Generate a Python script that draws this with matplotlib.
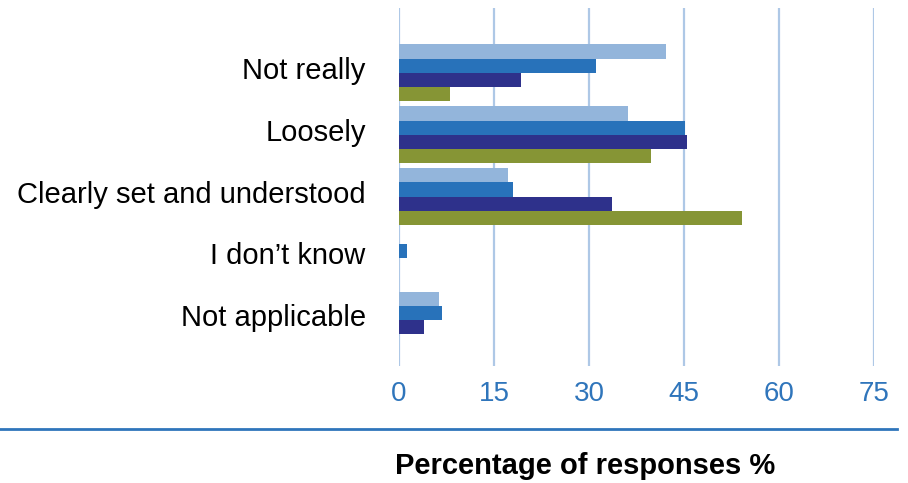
import matplotlib
matplotlib.use("Agg")
import matplotlib.pyplot as plt
from matplotlib.lines import Line2D
from matplotlib.transforms import ScaledTranslation
import numpy as np

plt.rcParams['font.family'] = ['Liberation Sans', 'DejaVu Sans']

categories = ["Not really", "Loosely", "Clearly set and understood",
              "I don\u2019t know", "Not applicable"]
series_a = [42.2, 36.2, 17.2, 0.0, 6.3]
series_b = [31.1, 45.2, 18.0, 1.3, 6.8]
series_c = [19.3, 45.5, 33.6, 0.0, 4.0]
series_d = [8.1, 39.8, 54.2, 0.0, 0.0]
xticks = [0, 15, 30, 45, 60, 75]

colors = ["#93b5db", "#2872ba", "#2e318b", "#869535"]
all_series = [series_a, series_b, series_c, series_d]

fig = plt.figure(figsize=(9.08, 4.83), dpi=100)
ax = fig.add_axes([0.4394, 0.2422, 0.5232, 0.7412])

y = np.arange(len(categories))
h = 0.23
for i, (vals, col) in enumerate(zip(all_series, colors)):
    ax.barh(y + (i - 1.5) * h, vals, height=h, color=col, zorder=3)

ax.set_xlim(0, 75)
ax.set_ylim(4.74, -1.05)
ax.set_xticks(xticks)
ax.set_yticks(y)
ax.set_yticklabels(categories, fontsize=21)
ax.tick_params(axis='y', length=0, pad=24)
ax.tick_params(axis='x', length=0, pad=11, labelsize=20, labelcolor="#2f75bb")
# nudge category labels up a little
for lbl in ax.get_yticklabels():
    lbl.set_transform(lbl.get_transform() + ScaledTranslation(0, 0.05, fig.dpi_scale_trans))
for s in ax.spines.values():
    s.set_visible(False)
ax.grid(axis='x', color="#aec8e6", linewidth=1.6, zorder=0)
ax.grid(axis='y', visible=False)

fig.add_artist(Line2D([0, 897 / 908], [1 - 429 / 483] * 2,
                      transform=fig.transFigure, color="#2f75bb", linewidth=2))
fig.text(585 / 908, 1 - 466 / 483, "Percentage of responses %",
         ha='center', va='center', fontsize=21, fontweight='bold')

fig.savefig("out.png", dpi=100)
